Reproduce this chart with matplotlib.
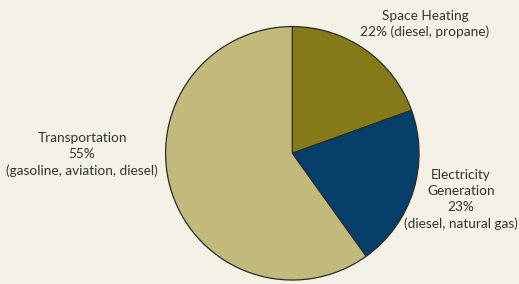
import matplotlib
matplotlib.use("Agg")
import matplotlib.pyplot as plt

# slice shares as drawn in the picture (clockwise from 12 o'clock)
sectors = ["Space Heating", "Electricity Generation", "Transportation"]
shares = [19.5, 20.6, 59.9]
colors = ["#857a1a", "#06406a", "#c2b97d"]

label_texts = [
    "Space Heating\n22% (diesel, propane)",
    "Electricity\nGeneration\n23%\n(diesel, natural gas)",
    "Transportation\n55%\n(gasoline, aviation, diesel)",
]
# label centres in pixels (x from left, y from top)
label_pos = [(425, 24), (461, 199.5), (82, 154.5)]

W, H = 519, 284
bg = "#f3f1e5"

plt.rcParams["font.family"] = ["Lato", "DejaVu Sans"]

fig = plt.figure(figsize=(W / 100, H / 100), dpi=100, facecolor=bg)
cx, cy, r = 292.3, 153.3, 128
ax = fig.add_axes([(cx - r) / W, (H - cy - r) / H, 2 * r / W, 2 * r / H])
ax.set_facecolor(bg)

ax.pie(shares, colors=colors, startangle=90, counterclock=False, radius=1,
       wedgeprops=dict(edgecolor="#2b2b2b", linewidth=0.9))
ax.set_xlim(-1.01, 1.01)
ax.set_ylim(-1.01, 1.01)
ax.set_aspect("equal")
ax.axis("off")

for txt, (px, py) in zip(label_texts, label_pos):
    fig.text(px / W, 1 - py / H, txt, ha="center", va="center",
             fontsize=9.8, color="#333333", linespacing=1.42)

fig.savefig("out.png", dpi=100, facecolor=bg)
